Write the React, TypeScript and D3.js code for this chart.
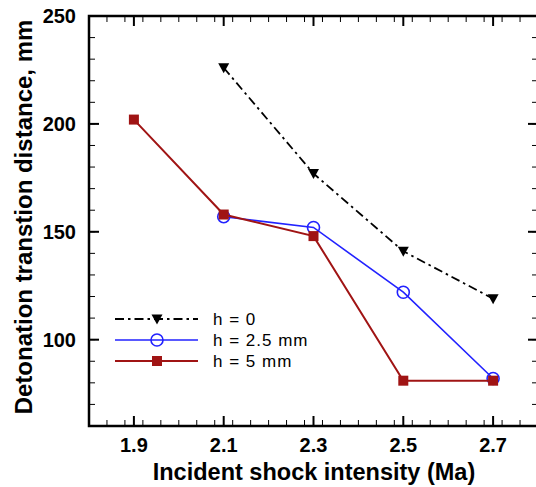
import React from "react";
import * as d3 from "d3";

// Incident shock Mach number (x) vs. detonation transition distance in mm (y)
const xTicks = [1.9, 2.1, 2.3, 2.5, 2.7];
const yTicks = [100, 150, 200, 250];

const h0X = [2.1, 2.3, 2.5, 2.7];
const h0Y = [226, 177, 141, 119];

const h25X = [2.1, 2.3, 2.5, 2.7];
const h25Y = [157, 152, 122, 82];

const h5X = [1.9, 2.1, 2.3, 2.5, 2.7];
const h5Y = [202, 158, 148, 81, 81];

const legendLabels = ["h = 0", "h = 2.5 mm", "h = 5 mm"];

const W = 536;
const H = 487;
const left = 89;
const right = 538;
const top = 16;
const bottom = 426;

const RED = "#a01414";
const BLUE = "#2222ff";
const FONT = "Arial, 'Liberation Sans', Helvetica, sans-serif";

export default function App() {
  const x = d3.scaleLinear().domain([1.8, 2.8]).range([left, right]);
  const y = d3.scaleLinear().domain([60, 250]).range([bottom, top]);

  const xMinor = d3.range(0, 26).map((i) => 1.8 + i * 0.04);
  const yMinor = d3.range(0, 20).map((i) => 60 + i * 10);

  const line = d3
    .line<[number, number]>()
    .x((d) => x(d[0]))
    .y((d) => y(d[1]));

  const zip = (xs: number[], ys: number[]) =>
    xs.map((v, i) => [v, ys[i]] as [number, number]);

  const triPath = "M-5.5,-4.5L5.5,-4.5L0,5.5Z";

  const series = [
    {
      pts: zip(h0X, h0Y),
      color: "#000",
      width: 1.8,
      dash: "9,4,2.5,4",
      marker: "tri",
    },
    { pts: zip(h25X, h25Y), color: BLUE, width: 1.6, dash: null, marker: "circle" },
    { pts: zip(h5X, h5Y), color: RED, width: 2, dash: null, marker: "square" },
  ];

  const drawMarker = (kind: string, cx: number, cy: number, color: string, key: string) => {
    if (kind === "tri")
      return <path key={key} d={triPath} transform={`translate(${cx},${cy})`} fill="#000" />;
    if (kind === "circle")
      return <circle key={key} cx={cx} cy={cy} r={6} fill="none" stroke={color} strokeWidth={1.6} />;
    return <rect key={key} x={cx - 5} y={cy - 5} width={10} height={10} fill={color} />;
  };

  const legendY = [319, 340, 361];

  return (
    <svg
      width={W}
      height={H}
      style={{ position: "absolute", left: 0, top: 0, background: "#fff" }}
      fontFamily={FONT}
    >
      <rect x={0} y={0} width={W} height={H} fill="#fff" />

      {/* minor ticks */}
      {xMinor.map((v, i) => (
        <g key={"xm" + i} stroke="#000" strokeWidth={1}>
          <line x1={x(v)} x2={x(v)} y1={bottom} y2={bottom - 6} />
          <line x1={x(v)} x2={x(v)} y1={top} y2={top + 6} />
        </g>
      ))}
      {yMinor.map((v, i) => (
        <g key={"ym" + i} stroke="#000" strokeWidth={1}>
          <line x1={left} x2={left + 6} y1={y(v)} y2={y(v)} />
          <line x1={right} x2={right - 6} y1={y(v)} y2={y(v)} />
        </g>
      ))}

      {/* major ticks */}
      {xTicks.map((v) => (
        <g key={"xM" + v} stroke="#000" strokeWidth={2}>
          <line x1={x(v)} x2={x(v)} y1={bottom} y2={bottom - 10} />
          <line x1={x(v)} x2={x(v)} y1={top} y2={top + 10} />
        </g>
      ))}
      {yTicks.map((v) => (
        <g key={"yM" + v} stroke="#000" strokeWidth={2}>
          <line x1={left} x2={left + 10} y1={y(v)} y2={y(v)} />
          <line x1={right} x2={right - 10} y1={y(v)} y2={y(v)} />
        </g>
      ))}

      {/* frame */}
      <rect
        x={left}
        y={top}
        width={right - left}
        height={bottom - top}
        fill="none"
        stroke="#000"
        strokeWidth={2.5}
      />

      {/* tick labels */}
      {xTicks.map((v) => (
        <text
          key={"xl" + v}
          x={x(v)}
          y={452}
          textAnchor="middle"
          fontSize={20}
          fontWeight="bold"
        >
          {v.toFixed(1)}
        </text>
      ))}
      {yTicks.map((v) => (
        <text
          key={"yl" + v}
          x={76}
          y={y(v) + 7}
          textAnchor="end"
          fontSize={20}
          fontWeight="bold"
        >
          {v}
        </text>
      ))}

      {/* axis titles */}
      <text x={314} y={480} textAnchor="middle" fontSize={23.5} fontWeight="bold">
        Incident shock intensity (Ma)
      </text>
      <text
        transform={`translate(32,217) rotate(-90)`}
        textAnchor="middle"
        fontSize={24}
        fontWeight="bold"
      >
        Detonation transtion distance, mm
      </text>

      {/* series */}
      {series.map((s, si) => (
        <g key={"s" + si}>
          <path
            d={line(s.pts) || ""}
            fill="none"
            stroke={s.color}
            strokeWidth={s.width}
            strokeDasharray={s.dash || undefined}
          />
          {s.pts.map((p, pi) =>
            drawMarker(s.marker, x(p[0]), y(p[1]), s.color, `m${si}-${pi}`)
          )}
        </g>
      ))}

      {/* legend */}
      {series.map((s, si) => (
        <g key={"lg" + si}>
          <line
            x1={115}
            x2={198}
            y1={legendY[si]}
            y2={legendY[si]}
            stroke={s.color}
            strokeWidth={s.width}
            strokeDasharray={s.dash || undefined}
          />
          {drawMarker(s.marker, 157, legendY[si], s.color, "lm" + si)}
          <text x={213} y={legendY[si] + 6} fontSize={17} letterSpacing={1}>
            {legendLabels[si]}
          </text>
        </g>
      ))}
    </svg>
  );
}
